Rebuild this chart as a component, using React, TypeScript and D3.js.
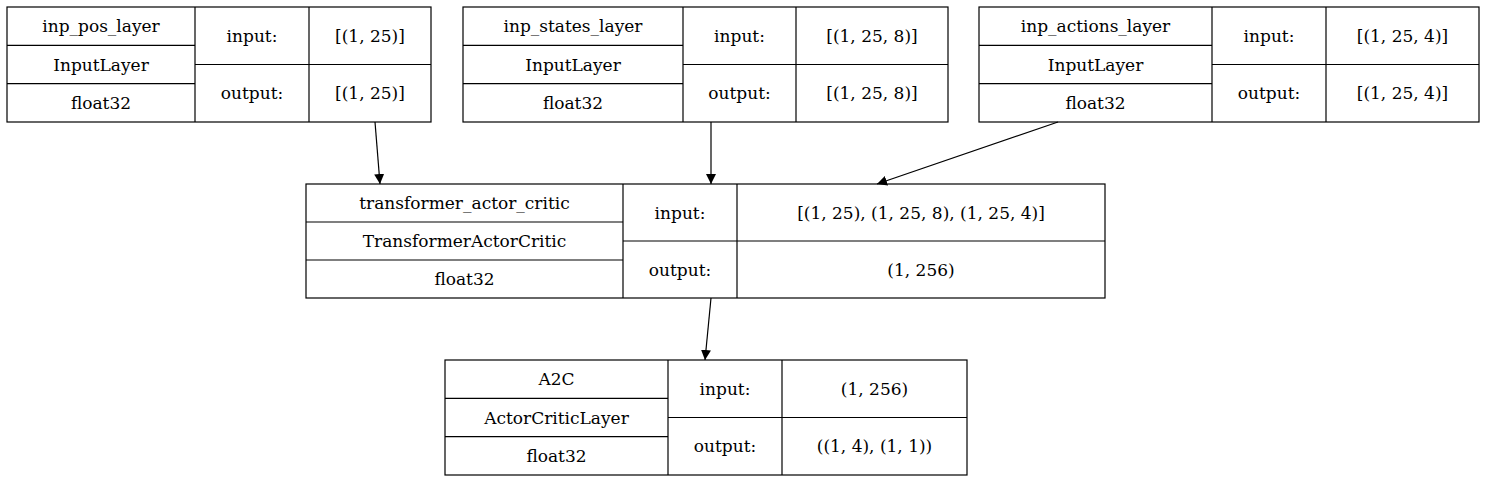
import React from "react";
import * as d3 from "d3";

const names = ["inp_pos_layer", "inp_states_layer", "inp_actions_layer", "transformer_actor_critic", "A2C"];
const classes = ["InputLayer", "InputLayer", "InputLayer", "TransformerActorCritic", "ActorCriticLayer"];
const dtypes = ["float32", "float32", "float32", "float32", "float32"];
const inputs = ["[(1, 25)]", "[(1, 25, 8)]", "[(1, 25, 4)]", "[(1, 25), (1, 25, 8), (1, 25, 4)]", "(1, 256)"];
const outputs = ["[(1, 25)]", "[(1, 25, 8)]", "[(1, 25, 4)]", "(1, 256)", "((1, 4), (1, 1))"];
const edges: [number, number][] = [[0, 3], [1, 3], [2, 3], [3, 4]];

// layout: [x0, split1, split2, x1, y0, y1]
const boxes = [
  [7, 195, 309, 431, 7, 122],
  [463, 683, 796, 948, 7, 122],
  [979, 1212, 1326, 1479, 7, 122],
  [306, 623, 737, 1105, 184, 298],
  [445, 668, 782, 967, 360, 475],
];
const edgeEnds = [
  [375, 122, 380, 184],
  [711, 122, 711, 184],
  [1058, 122, 877, 184],
  [711, 298, 705, 360],
];

export default function App() {
  const font = { fontFamily: "DejaVu Serif", fontSize: 17 };
  const line = d3.line();
  return (
    <svg width={1486} height={483} style={{ position: "absolute", left: 0, top: 0, background: "#fff" }}>
      <defs>
        <marker id="ah" viewBox="0 0 10 10" refX={10} refY={5} markerWidth={10} markerHeight={10} orient="auto" markerUnits="userSpaceOnUse">
          <path d="M0,0 L10,5 L0,10 Z" fill="#000" />
        </marker>
      </defs>
      {names.map((n, i) => {
        const [x0, s1, s2, x1, y0, y1] = boxes[i];
        const h = (y1 - y0) / 3;
        const mid = (y0 + y1) / 2;
        const cl = (s1 + x0) / 2;
        const cm = (s1 + s2) / 2;
        const cr = (s2 + x1) / 2;
        return (
          <g key={n} stroke="#000" strokeWidth={1.2} fill="none">
            <rect x={x0} y={y0} width={x1 - x0} height={y1 - y0} />
            <line x1={s1} x2={s1} y1={y0} y2={y1} />
            <line x1={s2} x2={s2} y1={y0} y2={y1} />
            <line x1={x0} x2={s1} y1={y0 + h} y2={y0 + h} />
            <line x1={x0} x2={s1} y1={y0 + 2 * h} y2={y0 + 2 * h} />
            <line x1={s1} x2={x1} y1={mid} y2={mid} />
            <g stroke="none" fill="#000" textAnchor="middle" style={font}>
              <text x={cl} y={y0 + h / 2 + 6}>{n}</text>
              <text x={cl} y={y0 + 1.5 * h + 6}>{classes[i]}</text>
              <text x={cl} y={y0 + 2.5 * h + 6}>{dtypes[i]}</text>
              <text x={cm} y={(y0 + mid) / 2 + 6}>input:</text>
              <text x={cm} y={(mid + y1) / 2 + 6}>output:</text>
              <text x={cr} y={(y0 + mid) / 2 + 6}>{inputs[i]}</text>
              <text x={cr} y={(mid + y1) / 2 + 6}>{outputs[i]}</text>
            </g>
          </g>
        );
      })}
      {edges.map((e, i) => {
        const [ax, ay, bx, by] = edgeEnds[i];
        return <path key={i} d={line([[ax, ay], [bx, by]]) || ""} stroke="#000" strokeWidth={1.2} fill="none" markerEnd="url(#ah)" />;
      })}
    </svg>
  );
}
